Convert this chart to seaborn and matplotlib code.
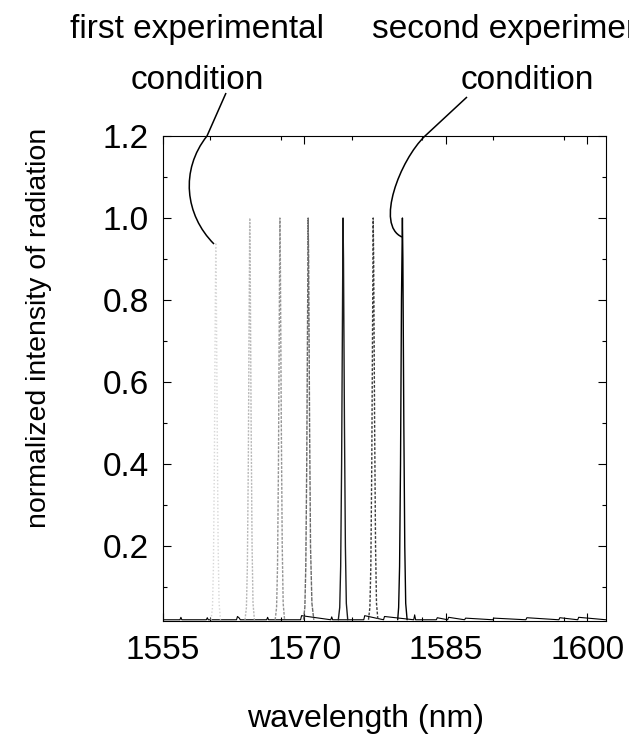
import matplotlib
matplotlib.use("Agg")
import matplotlib.pyplot as plt
from matplotlib.path import Path
from matplotlib.patches import PathPatch
from matplotlib.transforms import Affine2D
from matplotlib.ticker import MultipleLocator, FixedLocator
import seaborn as sns
import pandas as pd

# ---------------- data ----------------
peak_names = ["p1", "p2", "p3", "p4", "p5", "p6", "p7"]

p1_wl = [1560.10, 1560.25, 1560.35, 1560.45, 1560.55, 1560.60, 1560.65, 1560.75, 1560.85, 1560.95, 1561.10]
p1_int = [0.02, 0.05, 0.15, 0.40, 0.80, 0.94, 0.85, 0.50, 0.20, 0.06, 0.02]

p2_wl = [1563.70, 1563.85, 1563.95, 1564.05, 1564.15, 1564.20, 1564.25, 1564.35, 1564.45, 1564.55, 1564.70]
p2_int = [0.02, 0.05, 0.15, 0.40, 0.80, 1.00, 0.90, 0.50, 0.20, 0.06, 0.02]

p3_wl = [1566.90, 1567.05, 1567.15, 1567.25, 1567.35, 1567.40, 1567.45, 1567.55, 1567.65, 1567.75, 1567.90]
p3_int = [0.02, 0.05, 0.15, 0.40, 0.80, 1.00, 0.90, 0.50, 0.20, 0.06, 0.02]

p4_wl = [1569.90, 1570.05, 1570.15, 1570.25, 1570.35, 1570.40, 1570.45, 1570.55, 1570.65, 1570.80, 1571.00]
p4_int = [0.02, 0.05, 0.15, 0.40, 0.80, 1.00, 0.90, 0.50, 0.20, 0.06, 0.02]

p5_wl = [1573.60, 1573.75, 1573.85, 1573.95, 1574.05, 1574.10, 1574.15, 1574.25, 1574.35, 1574.45, 1574.60]
p5_int = [0.02, 0.05, 0.15, 0.40, 0.80, 1.00, 0.90, 0.50, 0.20, 0.06, 0.02]

p6_wl = [1576.80, 1576.95, 1577.05, 1577.15, 1577.25, 1577.30, 1577.35, 1577.45, 1577.55, 1577.65, 1577.80]
p6_int = [0.02, 0.05, 0.15, 0.40, 0.80, 1.00, 0.90, 0.50, 0.20, 0.06, 0.02]

p7_wl = [1579.90, 1580.00, 1580.10, 1580.20, 1580.30, 1580.40, 1580.45, 1580.55, 1580.65, 1580.75, 1580.90]
p7_int = [0.02, 0.05, 0.15, 0.40, 0.80, 1.00, 0.90, 0.50, 0.20, 0.06, 0.02]

base_wl = [1555.0, 1556.8, 1556.9, 1557.0, 1559.6, 1559.7, 1559.8, 1562.8, 1562.9, 1563.1, 1563.2,
           1566.0, 1566.1, 1566.2, 1569.6, 1569.7, 1572.8, 1572.9, 1573.0, 1576.3, 1576.4, 1578.4,
           1578.5, 1581.6, 1581.7, 1581.8, 1584.0, 1584.1, 1585.2, 1585.3, 1587.0, 1587.1, 1590.0,
           1590.1, 1593.5, 1593.6, 1597.0, 1597.1, 1599.0, 1599.1, 1602.0]
base_int = [0.020, 0.020, 0.026, 0.020, 0.020, 0.025, 0.020, 0.020, 0.028, 0.024, 0.020,
            0.020, 0.026, 0.020, 0.020, 0.030, 0.020, 0.027, 0.020, 0.020, 0.030, 0.020,
            0.028, 0.020, 0.032, 0.020, 0.020, 0.025, 0.020, 0.026, 0.020, 0.024, 0.020,
            0.024, 0.020, 0.025, 0.020, 0.025, 0.020, 0.026, 0.020]

peak_wls = [p1_wl, p2_wl, p3_wl, p4_wl, p5_wl, p6_wl, p7_wl]
peak_ints = [p1_int, p2_int, p3_int, p4_int, p5_int, p6_int, p7_int]

x_ticks = [1555, 1570, 1585, 1600]
y_ticks = [0.2, 0.4, 0.6, 0.8, 1.0, 1.2]

# ---------------- styling ----------------
peak_colors = {"p1": "#d6d6d6", "p2": "#b8b8b8", "p3": "#959595", "p4": "#6a6a6a",
               "p5": "#1a1a1a", "p6": "#3c3c3c", "p7": "#000000"}
peak_dashes = {"p1": (1, 1.5), "p2": (1.5, 1), "p3": (2, 1), "p4": (3, 0.8),
               "p5": "", "p6": (2, 1.2), "p7": ""}

frames = []
for name, wl, it in zip(peak_names, peak_wls, peak_ints):
    frames.append(pd.DataFrame({"wavelength": wl, "intensity": it, "peak": name}))
df = pd.concat(frames, ignore_index=True)
base_df = pd.DataFrame({"wavelength": base_wl, "intensity": base_int})

sns.set_theme(style="ticks")
plt.rcParams["font.family"] = ["Liberation Sans", "DejaVu Sans"]

W, H = 629, 746
fig = plt.figure(figsize=(W / 100, H / 100), dpi=100)
ax = fig.add_axes([163 / W, 1 - 621 / H, (606 - 163) / W, (621 - 136) / H])

sns.lineplot(data=base_df, x="wavelength", y="intensity", color="black", lw=0.8,
             sort=False, estimator=None, ax=ax, legend=False)
sns.lineplot(data=df, x="wavelength", y="intensity", hue="peak", style="peak",
             palette=peak_colors, dashes=peak_dashes, lw=1.0, sort=False,
             estimator=None, ax=ax, legend=False)

ax.set_xlim(1555, 1602)
ax.set_ylim(0.017, 1.2)
ax.xaxis.set_major_locator(FixedLocator(x_ticks))
ax.xaxis.set_minor_locator(MultipleLocator(7.5))
ax.yaxis.set_major_locator(FixedLocator(y_ticks))
ax.yaxis.set_minor_locator(MultipleLocator(0.1))
ax.set_xticklabels([str(v) for v in x_ticks])
ax.set_yticklabels([f"{v:.1f}" for v in y_ticks])
ax.tick_params(which="both", direction="in", top=True, right=True, color="black",
               width=0.8)
ax.tick_params(which="major", length=6, labelsize=24, pad=10, labelcolor="black")
ax.tick_params(which="minor", length=3)
for s in ax.spines.values():
    s.set_color("black")
    s.set_linewidth(0.8)
    s.set_visible(True)

lab = ["Liberation Sans", "DejaVu Sans"]
ax.set_xlabel("wavelength (nm)", fontsize=23, family=lab, color="black")
ax.set_ylabel("normalized intensity of radiation", fontsize=20.5, family=lab, color="black")
ax.xaxis.set_label_coords((366 - 163) / (606 - 163), -(727 - 621) / (621 - 136), transform=ax.transAxes)
ax.xaxis.label.set_va("baseline")
ax.yaxis.set_label_coords(-(163 - 39) / (606 - 163), (621 - 328) / (621 - 136), transform=ax.transAxes)
ax.yaxis.label.set_va("center")

# pixel (top-left origin) -> figure transform for annotations
px = Affine2D().scale(1 / W, -1 / H).translate(0, 1) + fig.transFigure

fig.text(197, 38, "first experimental", transform=px, ha="center", va="baseline",
         fontsize=24, family=lab, color="black")
fig.text(197, 89, "condition", transform=px, ha="center", va="baseline",
         fontsize=24, family=lab, color="black")
fig.text(526, 38, "second experimental", transform=px, ha="center", va="baseline",
         fontsize=24, family=lab, color="black")
fig.text(527, 89, "condition", transform=px, ha="center", va="baseline",
         fontsize=24, family=lab, color="black")

curve1 = Path([(226, 93), (207, 136), (180, 170), (185, 215), (214, 244)],
              [Path.MOVETO, Path.LINETO, Path.CURVE4, Path.CURVE4, Path.CURVE4])
curve2 = Path([(467, 97), (425, 136), (400, 160), (375, 225), (402, 237)],
              [Path.MOVETO, Path.LINETO, Path.CURVE4, Path.CURVE4, Path.CURVE4])
for c in (curve1, curve2):
    fig.add_artist(PathPatch(c, transform=px, fill=False, edgecolor="black", lw=1.1))

fig.savefig("out.png", dpi=100, facecolor="white")
